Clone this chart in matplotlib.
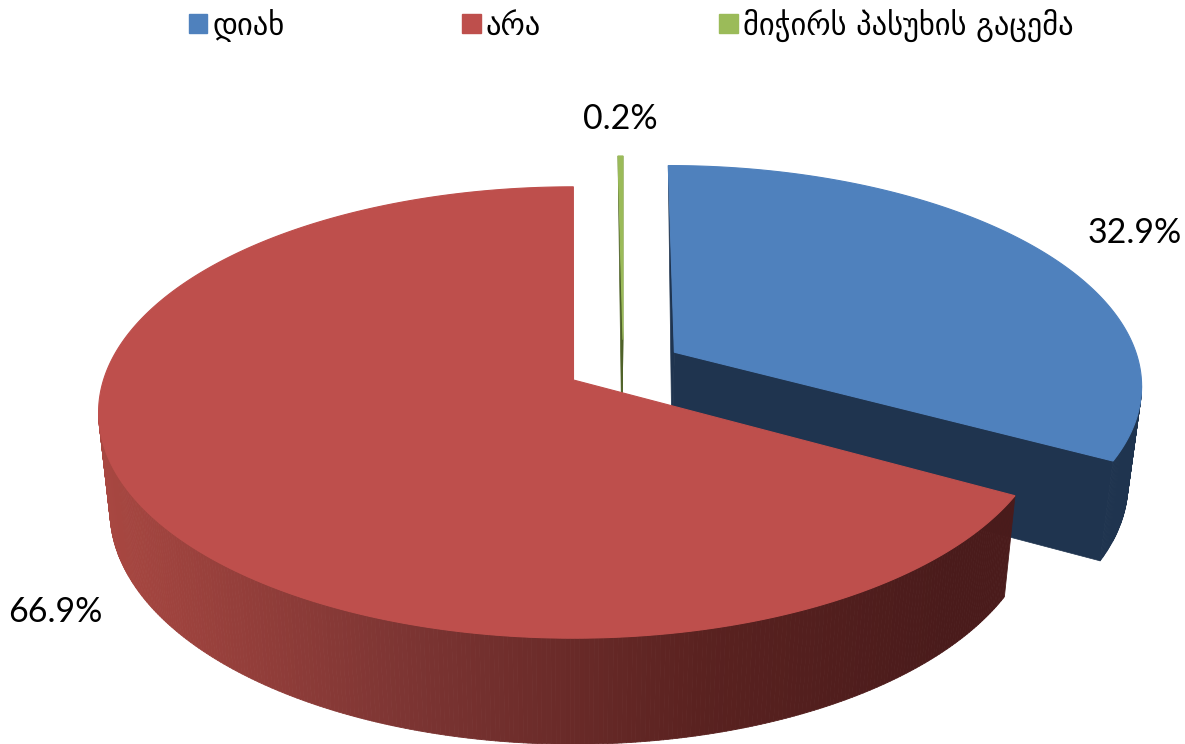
import numpy as np
import matplotlib
matplotlib.use('Agg')
import matplotlib.pyplot as plt
from matplotlib.collections import PolyCollection
from matplotlib.patches import Patch

# survey answers
labels = ['დიახ', 'არა', 'მიჭირს პასუხის გაცემა']
values = [32.9, 66.9, 0.2]
colors = ['#4F81BD', '#BE4F4C', '#9BBB59']
side_colors = ['#1F344F', '#4F1D1C', '#4F6228']
label_pos = [(1135, 232), (55, 611), (620, 118)]

# how far each slice is pulled out: disc units (u, v) and pixels, plus a small turn in degrees
explode = [(0.107, 0.128, 51.5, 0), (0, 0, 0, 0.7), (0, 0.187, 49.5, 0)]

# fake 3d view
cx, cy = 573.5, 380
rx, ry = 470, 221
persp = 0.144


def top_face(u, v, shift):
    s = 1 + persp * v
    return cx + rx * u / s + shift, cy - ry * v / s


def bottom_face(x, y):
    return cx + (x - cx) * 0.976, cy + (y - cy) * 1.035 + 97


def slice_points(a0, a1, ex):
    t = np.radians(np.linspace(a0, a1, max(int(a1 - a0) * 2, 2) + 1) + ex[3])
    return top_face(np.sin(t) + ex[0], np.cos(t) + ex[1], ex[2])


fig, ax = plt.subplots(figsize=(11.85, 7.44), dpi=100)
ax.set_position([0, 0, 1, 1])
ax.set_xlim(0, 1185)
ax.set_ylim(744, 0)
ax.axis('off')

ends = np.cumsum(values) / sum(values) * 360
starts = np.r_[0, ends[:-1]]

# back to front: blue, green, then the big red one
for z, i in enumerate([0, 2, 1], start=2):
    ex = explode[i]
    x, y = slice_points(starts[i], ends[i], ex)
    ax0, ay0 = top_face(ex[0], ex[1], ex[2])
    bx, by = bottom_face(x, y)
    bx0, by0 = bottom_face(ax0, ay0)

    # the two cut walls, red does not show its own
    if i != 1:
        ax.fill([ax0, x[0], bx0], [ay0, y[0], by0], color=side_colors[i], lw=0.5, zorder=z)
        ax.fill([ax0, x[-1], bx[-1], bx0], [ay0, y[-1], by[-1], by0],
                color=side_colors[i], lw=0.5, zorder=z)

    # outer wall, only the front part where the arc runs back to the left
    front = [k for k in range(len(x) - 1) if x[k + 1] < x[k]]
    quads = [[(x[k], y[k]), (x[k + 1], y[k + 1]), (bx[k + 1], by[k + 1]), (bx[k], by[k])]
             for k in front]
    if i == 1:
        # red gets its shading from left to right
        mid = (x[front] + x[np.array(front) + 1]) / 2
        wall_color = np.array([np.interp(mid, [100, 400, 700, 950], c) for c in
                               ([0xA8, 0x7D, 0x5A, 0x4A], [0x47, 0x35, 0x22, 0x1B],
                                [0x41, 0x33, 0x20, 0x1B])]).T / 255
    else:
        wall_color = side_colors[i]
    ax.add_collection(PolyCollection(quads, facecolors=wall_color, edgecolors=wall_color,
                                     linewidths=0.6, zorder=z))

    ax.fill(np.r_[ax0, x], np.r_[ay0, y], color=colors[i], lw=0.8, zorder=z)

for v, pos in zip(values, label_pos):
    ax.text(pos[0], pos[1] + 1, f'{v}%', ha='center', va='center', fontsize=24.5,
            family='Lato', color='black', zorder=10)

handles = [Patch(color=c) for c in colors]
ax.legend(handles, labels, loc='upper left', bbox_to_anchor=(161 / 1185, 1 + 19 / 744), ncols=3,
          frameon=False, prop={'family': 'DejaVu Sans', 'size': 22}, handlelength=0.6, handleheight=0.6,
          handletextpad=0.17, columnspacing=5.83, borderpad=0.4)

plt.savefig('out.png', dpi=100)
